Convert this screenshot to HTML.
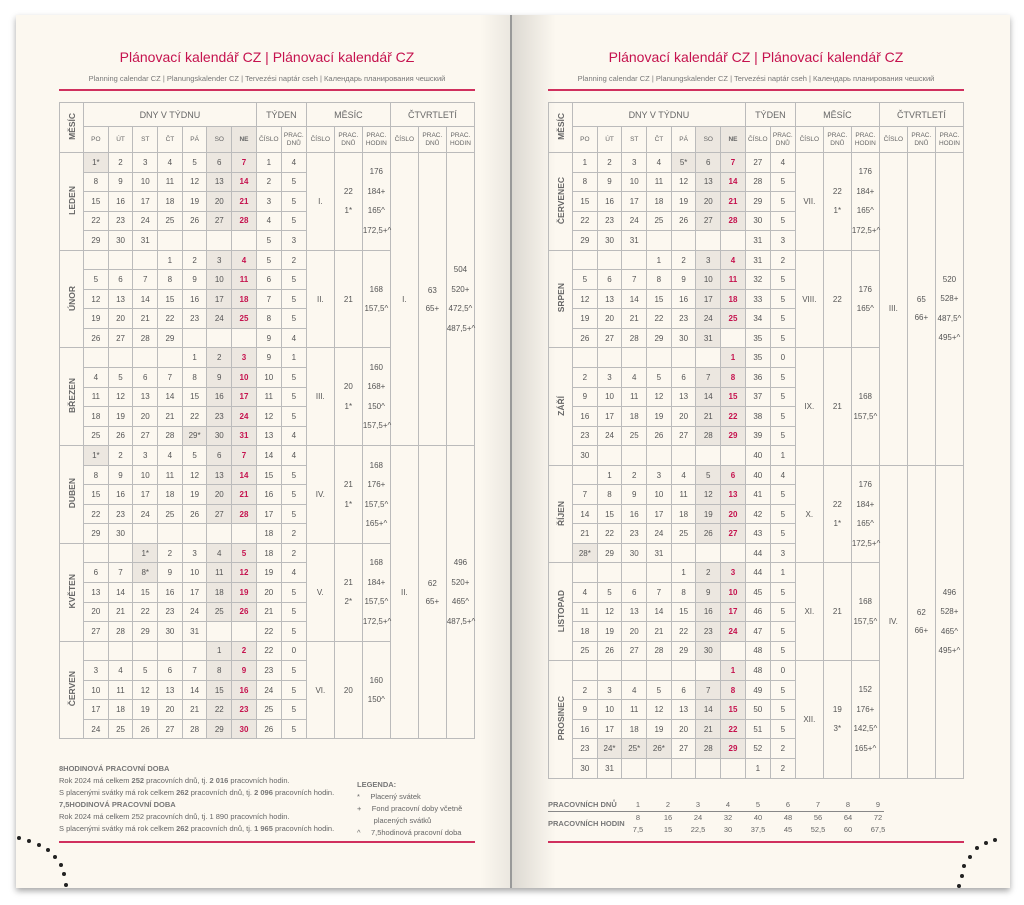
<!DOCTYPE html>
<html><head><meta charset="utf-8">
<style>
*{margin:0;padding:0;box-sizing:border-box}
body{width:1024px;height:905px;background:#fff;position:relative;overflow:hidden;font-family:"Liberation Sans",sans-serif;color:#555}
.book{position:absolute;left:16px;top:15px;width:994px;height:873px;background:#fcf8f0;box-shadow:0 3px 6px rgba(0,0,0,.35)}
.gl{position:absolute;left:480px;top:15px;width:31px;height:873px;background:linear-gradient(90deg,rgba(0,0,0,0),rgba(0,0,0,.07))}
.gr{position:absolute;left:511px;top:15px;width:45px;height:873px;background:linear-gradient(90deg,rgba(0,0,0,.13),rgba(0,0,0,0))}
.gline{position:absolute;left:510px;top:15px;width:2px;height:873px;background:#999}
.title{position:absolute;top:49px;width:416px;text-align:center;color:#c5124e;font-size:14px}
.sub{position:absolute;top:74px;width:416px;text-align:center;font-size:7.5px;color:#777}
.rl{position:absolute;height:2px;background:#d0305e}
table{position:absolute;top:102px;border-collapse:collapse;table-layout:fixed;font-size:8px;text-align:center}
td{border:1px solid #bbb;height:19.55px;padding:0;color:#555}
.h1 td{height:24px;font-size:9px;color:#666}
.h2 td{height:26px;font-size:6.5px;line-height:8px;color:#666}
.w{background:#ece7e0}
.r{color:#c5124e;font-weight:bold}
.rb{background:#ece7e0;color:#c5124e;font-weight:bold}
.m{writing-mode:vertical-rl;transform:rotate(180deg);font-size:8.5px;font-weight:bold;color:#666;display:inline-block}
.mc{line-height:19.5px}
.foot{position:absolute;font-size:7.5px;line-height:12px;color:#666}
.foot b{color:#777}
.dot{position:absolute;width:4px;height:4px;border-radius:50%;background:#222}
</style></head><body>
<div class="book"></div>
<div class="gl"></div><div class="gr"></div><div class="gline"></div>

<div class="title" style="left:59px">Plánovací kalendář CZ | Plánovací kalendář CZ</div>
<div class="sub" style="left:59px">Planning calendar CZ | Planungskalender CZ | Tervezési naptár cseh | Календарь планирования чешский</div>
<div class="rl" style="left:59px;width:416px;top:89px"></div>
<div class="title" style="left:548px">Plánovací kalendář CZ | Plánovací kalendář CZ</div>
<div class="sub" style="left:548px">Planning calendar CZ | Planungskalender CZ | Tervezési naptár cseh | Календарь планирования чешский</div>
<div class="rl" style="left:548px;width:416px;top:89px"></div>

<table style="left:59px;width:416px">
<colgroup><col style="width:24px"><col span="7" style="width:24.7px"><col span="2" style="width:25px"><col span="6" style="width:28px"></colgroup>
<tr class="h1"><td rowspan="2"><span class="m">MĚSÍC</span></td><td colspan="7">DNY V TÝDNU</td><td colspan="2">TÝDEN</td><td colspan="3">MĚSÍC</td><td colspan="3">ČTVRTLETÍ</td></tr>
<tr class="h2"><td>PO</td><td>ÚT</td><td>ST</td><td>ČT</td><td>PÁ</td><td class="w">SO</td><td class="rb">NE</td><td>ČÍSLO</td><td>PRAC.<br>DNŮ</td><td>ČÍSLO</td><td>PRAC.<br>DNŮ</td><td>PRAC.<br>HODIN</td><td>ČÍSLO</td><td>PRAC.<br>DNŮ</td><td>PRAC.<br>HODIN</td></tr>
<tr><td rowspan="5"><span class="m">LEDEN</span></td><td class="w">1*</td><td>2</td><td>3</td><td>4</td><td>5</td><td class="w">6</td><td class="rb">7</td><td>1</td><td>4</td><td rowspan="5">I.</td><td rowspan="5" class="mc">22<br>1*</td><td rowspan="5" class="mc">176<br>184+<br>165^<br>172,5+^</td><td rowspan="15">I.</td><td rowspan="15">63<br><br>65+</td><td rowspan="15" class="mc">504<br>520+<br>472,5^<br>487,5+^</td></tr>
<tr><td>8</td><td>9</td><td>10</td><td>11</td><td>12</td><td class="w">13</td><td class="rb">14</td><td>2</td><td>5</td></tr>
<tr><td>15</td><td>16</td><td>17</td><td>18</td><td>19</td><td class="w">20</td><td class="rb">21</td><td>3</td><td>5</td></tr>
<tr><td>22</td><td>23</td><td>24</td><td>25</td><td>26</td><td class="w">27</td><td class="rb">28</td><td>4</td><td>5</td></tr>
<tr><td>29</td><td>30</td><td>31</td><td></td><td></td><td></td><td></td><td>5</td><td>3</td></tr>
<tr><td rowspan="5"><span class="m">ÚNOR</span></td><td></td><td></td><td></td><td>1</td><td>2</td><td class="w">3</td><td class="rb">4</td><td>5</td><td>2</td><td rowspan="5">II.</td><td rowspan="5">21</td><td rowspan="5" class="mc">168<br>157,5^</td></tr>
<tr><td>5</td><td>6</td><td>7</td><td>8</td><td>9</td><td class="w">10</td><td class="rb">11</td><td>6</td><td>5</td></tr>
<tr><td>12</td><td>13</td><td>14</td><td>15</td><td>16</td><td class="w">17</td><td class="rb">18</td><td>7</td><td>5</td></tr>
<tr><td>19</td><td>20</td><td>21</td><td>22</td><td>23</td><td class="w">24</td><td class="rb">25</td><td>8</td><td>5</td></tr>
<tr><td>26</td><td>27</td><td>28</td><td>29</td><td></td><td></td><td></td><td>9</td><td>4</td></tr>
<tr><td rowspan="5"><span class="m">BŘEZEN</span></td><td></td><td></td><td></td><td></td><td>1</td><td class="w">2</td><td class="rb">3</td><td>9</td><td>1</td><td rowspan="5">III.</td><td rowspan="5" class="mc">20<br>1*</td><td rowspan="5" class="mc">160<br>168+<br>150^<br>157,5+^</td></tr>
<tr><td>4</td><td>5</td><td>6</td><td>7</td><td>8</td><td class="w">9</td><td class="rb">10</td><td>10</td><td>5</td></tr>
<tr><td>11</td><td>12</td><td>13</td><td>14</td><td>15</td><td class="w">16</td><td class="rb">17</td><td>11</td><td>5</td></tr>
<tr><td>18</td><td>19</td><td>20</td><td>21</td><td>22</td><td class="w">23</td><td class="rb">24</td><td>12</td><td>5</td></tr>
<tr><td>25</td><td>26</td><td>27</td><td>28</td><td class="w">29*</td><td class="w">30</td><td class="rb">31</td><td>13</td><td>4</td></tr>
<tr><td rowspan="5"><span class="m">DUBEN</span></td><td class="w">1*</td><td>2</td><td>3</td><td>4</td><td>5</td><td class="w">6</td><td class="rb">7</td><td>14</td><td>4</td><td rowspan="5">IV.</td><td rowspan="5" class="mc">21<br>1*</td><td rowspan="5" class="mc">168<br>176+<br>157,5^<br>165+^</td><td rowspan="15">II.</td><td rowspan="15">62<br><br>65+</td><td rowspan="15" class="mc">496<br>520+<br>465^<br>487,5+^</td></tr>
<tr><td>8</td><td>9</td><td>10</td><td>11</td><td>12</td><td class="w">13</td><td class="rb">14</td><td>15</td><td>5</td></tr>
<tr><td>15</td><td>16</td><td>17</td><td>18</td><td>19</td><td class="w">20</td><td class="rb">21</td><td>16</td><td>5</td></tr>
<tr><td>22</td><td>23</td><td>24</td><td>25</td><td>26</td><td class="w">27</td><td class="rb">28</td><td>17</td><td>5</td></tr>
<tr><td>29</td><td>30</td><td></td><td></td><td></td><td></td><td></td><td>18</td><td>2</td></tr>
<tr><td rowspan="5"><span class="m">KVĚTEN</span></td><td></td><td></td><td class="w">1*</td><td>2</td><td>3</td><td class="w">4</td><td class="rb">5</td><td>18</td><td>2</td><td rowspan="5">V.</td><td rowspan="5" class="mc">21<br>2*</td><td rowspan="5" class="mc">168<br>184+<br>157,5^<br>172,5+^</td></tr>
<tr><td>6</td><td>7</td><td class="w">8*</td><td>9</td><td>10</td><td class="w">11</td><td class="rb">12</td><td>19</td><td>4</td></tr>
<tr><td>13</td><td>14</td><td>15</td><td>16</td><td>17</td><td class="w">18</td><td class="rb">19</td><td>20</td><td>5</td></tr>
<tr><td>20</td><td>21</td><td>22</td><td>23</td><td>24</td><td class="w">25</td><td class="rb">26</td><td>21</td><td>5</td></tr>
<tr><td>27</td><td>28</td><td>29</td><td>30</td><td>31</td><td></td><td></td><td>22</td><td>5</td></tr>
<tr><td rowspan="5"><span class="m">ČERVEN</span></td><td></td><td></td><td></td><td></td><td></td><td class="w">1</td><td class="rb">2</td><td>22</td><td>0</td><td rowspan="5">VI.</td><td rowspan="5">20</td><td rowspan="5" class="mc">160<br>150^</td></tr>
<tr><td>3</td><td>4</td><td>5</td><td>6</td><td>7</td><td class="w">8</td><td class="rb">9</td><td>23</td><td>5</td></tr>
<tr><td>10</td><td>11</td><td>12</td><td>13</td><td>14</td><td class="w">15</td><td class="rb">16</td><td>24</td><td>5</td></tr>
<tr><td>17</td><td>18</td><td>19</td><td>20</td><td>21</td><td class="w">22</td><td class="rb">23</td><td>25</td><td>5</td></tr>
<tr><td>24</td><td>25</td><td>26</td><td>27</td><td>28</td><td class="w">29</td><td class="rb">30</td><td>26</td><td>5</td></tr>
</table>

<table style="left:548px;width:416px">
<colgroup><col style="width:24px"><col span="7" style="width:24.7px"><col span="2" style="width:25px"><col span="6" style="width:28px"></colgroup>
<tr class="h1"><td rowspan="2"><span class="m">MĚSÍC</span></td><td colspan="7">DNY V TÝDNU</td><td colspan="2">TÝDEN</td><td colspan="3">MĚSÍC</td><td colspan="3">ČTVRTLETÍ</td></tr>
<tr class="h2"><td>PO</td><td>ÚT</td><td>ST</td><td>ČT</td><td>PÁ</td><td class="w">SO</td><td class="rb">NE</td><td>ČÍSLO</td><td>PRAC.<br>DNŮ</td><td>ČÍSLO</td><td>PRAC.<br>DNŮ</td><td>PRAC.<br>HODIN</td><td>ČÍSLO</td><td>PRAC.<br>DNŮ</td><td>PRAC.<br>HODIN</td></tr>
<tr><td rowspan="5"><span class="m">ČERVENEC</span></td><td>1</td><td>2</td><td>3</td><td>4</td><td class="w">5*</td><td class="w">6</td><td class="rb">7</td><td>27</td><td>4</td><td rowspan="5">VII.</td><td rowspan="5" class="mc">22<br>1*</td><td rowspan="5" class="mc">176<br>184+<br>165^<br>172,5+^</td><td rowspan="16">III.</td><td rowspan="16">65<br><br>66+</td><td rowspan="16" class="mc">520<br>528+<br>487,5^<br>495+^</td></tr>
<tr><td>8</td><td>9</td><td>10</td><td>11</td><td>12</td><td class="w">13</td><td class="rb">14</td><td>28</td><td>5</td></tr>
<tr><td>15</td><td>16</td><td>17</td><td>18</td><td>19</td><td class="w">20</td><td class="rb">21</td><td>29</td><td>5</td></tr>
<tr><td>22</td><td>23</td><td>24</td><td>25</td><td>26</td><td class="w">27</td><td class="rb">28</td><td>30</td><td>5</td></tr>
<tr><td>29</td><td>30</td><td>31</td><td></td><td></td><td></td><td></td><td>31</td><td>3</td></tr>
<tr><td rowspan="5"><span class="m">SRPEN</span></td><td></td><td></td><td></td><td>1</td><td>2</td><td class="w">3</td><td class="rb">4</td><td>31</td><td>2</td><td rowspan="5">VIII.</td><td rowspan="5">22</td><td rowspan="5" class="mc">176<br>165^</td></tr>
<tr><td>5</td><td>6</td><td>7</td><td>8</td><td>9</td><td class="w">10</td><td class="rb">11</td><td>32</td><td>5</td></tr>
<tr><td>12</td><td>13</td><td>14</td><td>15</td><td>16</td><td class="w">17</td><td class="rb">18</td><td>33</td><td>5</td></tr>
<tr><td>19</td><td>20</td><td>21</td><td>22</td><td>23</td><td class="w">24</td><td class="rb">25</td><td>34</td><td>5</td></tr>
<tr><td>26</td><td>27</td><td>28</td><td>29</td><td>30</td><td class="w">31</td><td></td><td>35</td><td>5</td></tr>
<tr><td rowspan="6"><span class="m">ZÁŘÍ</span></td><td></td><td></td><td></td><td></td><td></td><td></td><td class="rb">1</td><td>35</td><td>0</td><td rowspan="6">IX.</td><td rowspan="6">21</td><td rowspan="6" class="mc">168<br>157,5^</td></tr>
<tr><td>2</td><td>3</td><td>4</td><td>5</td><td>6</td><td class="w">7</td><td class="rb">8</td><td>36</td><td>5</td></tr>
<tr><td>9</td><td>10</td><td>11</td><td>12</td><td>13</td><td class="w">14</td><td class="rb">15</td><td>37</td><td>5</td></tr>
<tr><td>16</td><td>17</td><td>18</td><td>19</td><td>20</td><td class="w">21</td><td class="rb">22</td><td>38</td><td>5</td></tr>
<tr><td>23</td><td>24</td><td>25</td><td>26</td><td>27</td><td class="w">28</td><td class="rb">29</td><td>39</td><td>5</td></tr>
<tr><td>30</td><td></td><td></td><td></td><td></td><td></td><td></td><td>40</td><td>1</td></tr>
<tr><td rowspan="5"><span class="m">ŘÍJEN</span></td><td></td><td>1</td><td>2</td><td>3</td><td>4</td><td class="w">5</td><td class="rb">6</td><td>40</td><td>4</td><td rowspan="5">X.</td><td rowspan="5" class="mc">22<br>1*</td><td rowspan="5" class="mc">176<br>184+<br>165^<br>172,5+^</td><td rowspan="16">IV.</td><td rowspan="16">62<br><br>66+</td><td rowspan="16" class="mc">496<br>528+<br>465^<br>495+^</td></tr>
<tr><td>7</td><td>8</td><td>9</td><td>10</td><td>11</td><td class="w">12</td><td class="rb">13</td><td>41</td><td>5</td></tr>
<tr><td>14</td><td>15</td><td>16</td><td>17</td><td>18</td><td class="w">19</td><td class="rb">20</td><td>42</td><td>5</td></tr>
<tr><td>21</td><td>22</td><td>23</td><td>24</td><td>25</td><td class="w">26</td><td class="rb">27</td><td>43</td><td>5</td></tr>
<tr><td class="w">28*</td><td>29</td><td>30</td><td>31</td><td></td><td></td><td></td><td>44</td><td>3</td></tr>
<tr><td rowspan="5"><span class="m">LISTOPAD</span></td><td></td><td></td><td></td><td></td><td>1</td><td class="w">2</td><td class="rb">3</td><td>44</td><td>1</td><td rowspan="5">XI.</td><td rowspan="5">21</td><td rowspan="5" class="mc">168<br>157,5^</td></tr>
<tr><td>4</td><td>5</td><td>6</td><td>7</td><td>8</td><td class="w">9</td><td class="rb">10</td><td>45</td><td>5</td></tr>
<tr><td>11</td><td>12</td><td>13</td><td>14</td><td>15</td><td class="w">16</td><td class="rb">17</td><td>46</td><td>5</td></tr>
<tr><td>18</td><td>19</td><td>20</td><td>21</td><td>22</td><td class="w">23</td><td class="rb">24</td><td>47</td><td>5</td></tr>
<tr><td>25</td><td>26</td><td>27</td><td>28</td><td>29</td><td class="w">30</td><td></td><td>48</td><td>5</td></tr>
<tr><td rowspan="6"><span class="m">PROSINEC</span></td><td></td><td></td><td></td><td></td><td></td><td></td><td class="rb">1</td><td>48</td><td>0</td><td rowspan="6">XII.</td><td rowspan="6" class="mc">19<br>3*</td><td rowspan="6" class="mc">152<br>176+<br>142,5^<br>165+^</td></tr>
<tr><td>2</td><td>3</td><td>4</td><td>5</td><td>6</td><td class="w">7</td><td class="rb">8</td><td>49</td><td>5</td></tr>
<tr><td>9</td><td>10</td><td>11</td><td>12</td><td>13</td><td class="w">14</td><td class="rb">15</td><td>50</td><td>5</td></tr>
<tr><td>16</td><td>17</td><td>18</td><td>19</td><td>20</td><td class="w">21</td><td class="rb">22</td><td>51</td><td>5</td></tr>
<tr><td>23</td><td class="w">24*</td><td class="w">25*</td><td class="w">26*</td><td>27</td><td class="w">28</td><td class="rb">29</td><td>52</td><td>2</td></tr>
<tr><td>30</td><td>31</td><td></td><td></td><td></td><td></td><td></td><td>1</td><td>2</td></tr>
</table>

<div class="foot" style="left:59px;top:763px"><b>8HODINOVÁ PRACOVNÍ DOBA</b><br>Rok 2024 má celkem <b>252</b> pracovních dnů, tj. <b>2 016</b> pracovních hodin.<br>S placenými svátky má rok celkem <b>262</b> pracovních dnů, tj. <b>2 096</b> pracovních hodin.<br><b>7,5HODINOVÁ PRACOVNÍ DOBA</b><br>Rok 2024 má celkem 252 pracovních dnů, tj. 1 890 pracovních hodin.<br>S placenými svátky má rok celkem <b>262</b> pracovních dnů, tj. <b>1 965</b> pracovních hodin.</div>
<div class="foot" style="left:357px;top:779px"><b>LEGENDA:</b><br>*&nbsp;&nbsp;&nbsp;&nbsp;&nbsp;Placený svátek<br>+&nbsp;&nbsp;&nbsp;&nbsp;&nbsp;Fond pracovní doby včetně<br>&nbsp;&nbsp;&nbsp;&nbsp;&nbsp;&nbsp;&nbsp;&nbsp;placených svátků<br>^&nbsp;&nbsp;&nbsp;&nbsp;&nbsp;7,5hodinová pracovní doba</div>
<div class="rl" style="left:59px;width:416px;top:841px"></div>

<div class="foot" style="left:548px;top:799px;font-weight:bold;color:#777">PRACOVNÍCH DNŮ</div>
<div class="foot" style="left:548px;top:818px;font-weight:bold;color:#777">PRACOVNÍCH HODIN</div>
<div style="position:absolute;left:548px;top:811px;width:336px;height:1px;background:#888"></div>
<div class="foot" style="left:628px;top:799px;width:260px;display:flex;justify-content:space-between;text-align:center">
<span style="width:20px">1</span><span style="width:20px">2</span><span style="width:20px">3</span><span style="width:20px">4</span><span style="width:20px">5</span><span style="width:20px">6</span><span style="width:20px">7</span><span style="width:20px">8</span><span style="width:20px">9</span></div>
<div class="foot" style="left:628px;top:812px;width:260px;display:flex;justify-content:space-between;text-align:center">
<span style="width:20px">8<br>7,5</span><span style="width:20px">16<br>15</span><span style="width:20px">24<br>22,5</span><span style="width:20px">32<br>30</span><span style="width:20px">40<br>37,5</span><span style="width:20px">48<br>45</span><span style="width:20px">56<br>52,5</span><span style="width:20px">64<br>60</span><span style="width:20px">72<br>67,5</span></div>
<div class="rl" style="left:548px;width:416px;top:841px"></div>

<div class="dot" style="left:17px;top:836px"></div><div class="dot" style="left:27px;top:839px"></div><div class="dot" style="left:37px;top:843px"></div><div class="dot" style="left:46px;top:848px"></div><div class="dot" style="left:53px;top:855px"></div><div class="dot" style="left:59px;top:863px"></div><div class="dot" style="left:62px;top:872px"></div><div class="dot" style="left:64px;top:883px"></div>
<div class="dot" style="left:993px;top:838px"></div><div class="dot" style="left:984px;top:841px"></div><div class="dot" style="left:975px;top:846px"></div><div class="dot" style="left:968px;top:855px"></div><div class="dot" style="left:962px;top:864px"></div><div class="dot" style="left:960px;top:874px"></div><div class="dot" style="left:957px;top:884px"></div>
</body></html>
